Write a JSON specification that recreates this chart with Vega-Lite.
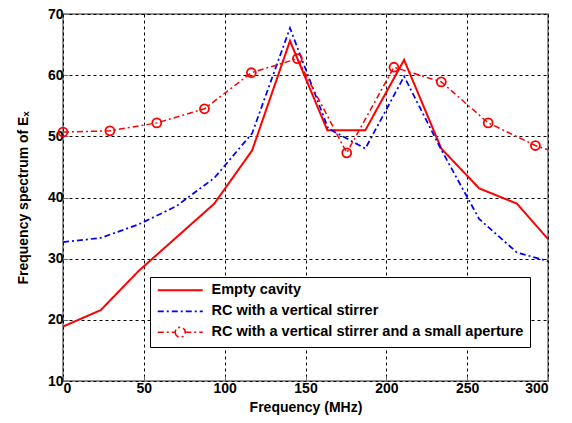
{
  "$schema": "https://vega.github.io/schema/vega-lite/v6.json",
  "width": 485,
  "height": 367,
  "autosize": {"type": "none"},
  "padding": {"left": 63, "top": 14, "right": 24, "bottom": 42},
  "background": "white",
  "config": {
    "font": "Liberation Sans",
    "view": {"stroke": "#6e6e6e", "strokeWidth": 1.5},
    "axis": {
      "labelFont": "Liberation Sans",
      "labelFontWeight": "bold",
      "labelFontSize": 14,
      "labelColor": "black",
      "titleFont": "Liberation Sans",
      "titleFontWeight": "bold",
      "titleFontSize": 14,
      "titleColor": "black",
      "domain": false,
      "tickColor": "#6e6e6e",
      "tickSize": -5,
      "gridColor": "black",
      "gridDash": [3, 3],
      "gridOpacity": 1,
      "gridWidth": 1
    }
  },
  "data": {
    "values": [
      {"s": "Empty cavity", "f": 0, "v": 18.9},
      {"s": "Empty cavity", "f": 23.4, "v": 21.6},
      {"s": "Empty cavity", "f": 46.8, "v": 28.0},
      {"s": "Empty cavity", "f": 70.2, "v": 33.5},
      {"s": "Empty cavity", "f": 93.6, "v": 39.0},
      {"s": "Empty cavity", "f": 117, "v": 47.7},
      {"s": "Empty cavity", "f": 140.4, "v": 65.6},
      {"s": "Empty cavity", "f": 163.5, "v": 51.0},
      {"s": "Empty cavity", "f": 187, "v": 51.0},
      {"s": "Empty cavity", "f": 211, "v": 62.5},
      {"s": "Empty cavity", "f": 234, "v": 48.0},
      {"s": "Empty cavity", "f": 257.4, "v": 41.5},
      {"s": "Empty cavity", "f": 280.8, "v": 39.0},
      {"s": "Empty cavity", "f": 300, "v": 33.2},
      {"s": "RC with a vertical stirrer", "f": 0, "v": 32.7},
      {"s": "RC with a vertical stirrer", "f": 23.4, "v": 33.4},
      {"s": "RC with a vertical stirrer", "f": 46.8, "v": 35.6},
      {"s": "RC with a vertical stirrer", "f": 70.2, "v": 38.6},
      {"s": "RC with a vertical stirrer", "f": 93.6, "v": 43.2},
      {"s": "RC with a vertical stirrer", "f": 117, "v": 50.5},
      {"s": "RC with a vertical stirrer", "f": 140.4, "v": 67.7},
      {"s": "RC with a vertical stirrer", "f": 164, "v": 51.3},
      {"s": "RC with a vertical stirrer", "f": 187, "v": 48.0},
      {"s": "RC with a vertical stirrer", "f": 211, "v": 59.8},
      {"s": "RC with a vertical stirrer", "f": 234, "v": 47.8},
      {"s": "RC with a vertical stirrer", "f": 257.4, "v": 36.5},
      {"s": "RC with a vertical stirrer", "f": 280.8, "v": 31.0},
      {"s": "RC with a vertical stirrer", "f": 300, "v": 29.6},
      {"s": "RC with a vertical stirrer and a small aperture", "f": 0, "v": 50.7},
      {"s": "RC with a vertical stirrer and a small aperture", "f": 29, "v": 50.9},
      {"s": "RC with a vertical stirrer and a small aperture", "f": 58, "v": 52.2},
      {"s": "RC with a vertical stirrer and a small aperture", "f": 87.5, "v": 54.5},
      {"s": "RC with a vertical stirrer and a small aperture", "f": 116.5, "v": 60.4},
      {"s": "RC with a vertical stirrer and a small aperture", "f": 145, "v": 62.7},
      {"s": "RC with a vertical stirrer and a small aperture", "f": 175.5, "v": 47.3},
      {"s": "RC with a vertical stirrer and a small aperture", "f": 204.7, "v": 61.3},
      {"s": "RC with a vertical stirrer and a small aperture", "f": 234, "v": 58.9},
      {"s": "RC with a vertical stirrer and a small aperture", "f": 263, "v": 52.2},
      {"s": "RC with a vertical stirrer and a small aperture", "f": 292.2, "v": 48.5},
      {"s": "RC with a vertical stirrer and a small aperture", "f": 300, "v": 47.8}
    ]
  },
  "encoding": {
    "x": {"field": "f", "type": "quantitative", "title": "Frequency (MHz)",
      "scale": {"domain": [0, 300], "nice": false},
      "axis": {"values": [0, 50, 100, 150, 200, 250, 300], "labelPadding": 5, "titlePadding": 5}},
    "y": {"field": "v", "type": "quantitative", "title": "Frequency spectrum of Eₓ",
      "scale": {"domain": [10, 70], "nice": false, "zero": false},
      "axis": {"values": [10, 20, 30, 40, 50, 60, 70], "labelPadding": 5, "titlePadding": 17}}
  },
  "layer": [
    {
      "mark": {"type": "line", "clip": true},
      "encoding": {
        "color": {"field": "s", "type": "nominal", "title": null,
          "scale": {"domain": ["Empty cavity", "RC with a vertical stirrer", "RC with a vertical stirrer and a small aperture"],
            "range": ["#ff0000", "#0000ff", "#ff0000"]},
          "legend": {
            "orient": "none", "legendX": 87, "legendY": 263,
            "strokeColor": "black", "fillColor": "white", "padding": 6,
            "labelFont": "Liberation Sans", "labelFontWeight": "bold", "labelFontSize": 14.5,
            "labelColor": "black", "labelLimit": 400, "rowPadding": 6, "labelOffset": 24,
            "symbolType": "M-4.5,0H4.5", "symbolStrokeWidth": 2, "symbolSize": 100, "symbolOffset": 17,
            "encode": {"symbols": {"update": {"shape": {"signal": "datum.value === 'RC with a vertical stirrer and a small aperture' ? 'M-4.5,0H-1M1,0H4.5M-1,0A1,1,0,1,0,1,0A1,1,0,1,0,-1,0' : 'M-4.5,0H4.5'"}}}}
          }},
        "strokeDash": {"field": "s", "type": "nominal", "title": null,
          "scale": {"domain": ["Empty cavity", "RC with a vertical stirrer", "RC with a vertical stirrer and a small aperture"],
            "range": [[1, 0], [6, 3, 2, 3], [6, 3, 2, 3]]},
          "legend": {
            "orient": "none", "legendX": 87, "legendY": 263,
            "strokeColor": "black", "fillColor": "white", "padding": 6,
            "labelFont": "Liberation Sans", "labelFontWeight": "bold", "labelFontSize": 14.5,
            "labelColor": "black", "labelLimit": 400, "rowPadding": 6, "labelOffset": 24,
            "symbolType": "M-4.5,0H4.5", "symbolStrokeWidth": 2, "symbolSize": 100, "symbolOffset": 17,
            "encode": {"symbols": {"update": {"shape": {"signal": "datum.value === 'RC with a vertical stirrer and a small aperture' ? 'M-4.5,0H-1M1,0H4.5M-1,0A1,1,0,1,0,1,0A1,1,0,1,0,-1,0' : 'M-4.5,0H4.5'"}}}}
          }},
        "strokeWidth": {"field": "s", "type": "nominal", "legend": null,
          "scale": {"domain": ["Empty cavity", "RC with a vertical stirrer", "RC with a vertical stirrer and a small aperture"],
            "range": [2, 1.5, 1.5]}}
      }
    },
    {
      "transform": [{"filter": "datum.s === 'RC with a vertical stirrer and a small aperture' && datum.f < 300"}],
      "mark": {"type": "point", "shape": "circle", "size": 80, "filled": false, "color": "#ff0000", "strokeWidth": 1.8, "opacity": 1}
    }
  ]
}
